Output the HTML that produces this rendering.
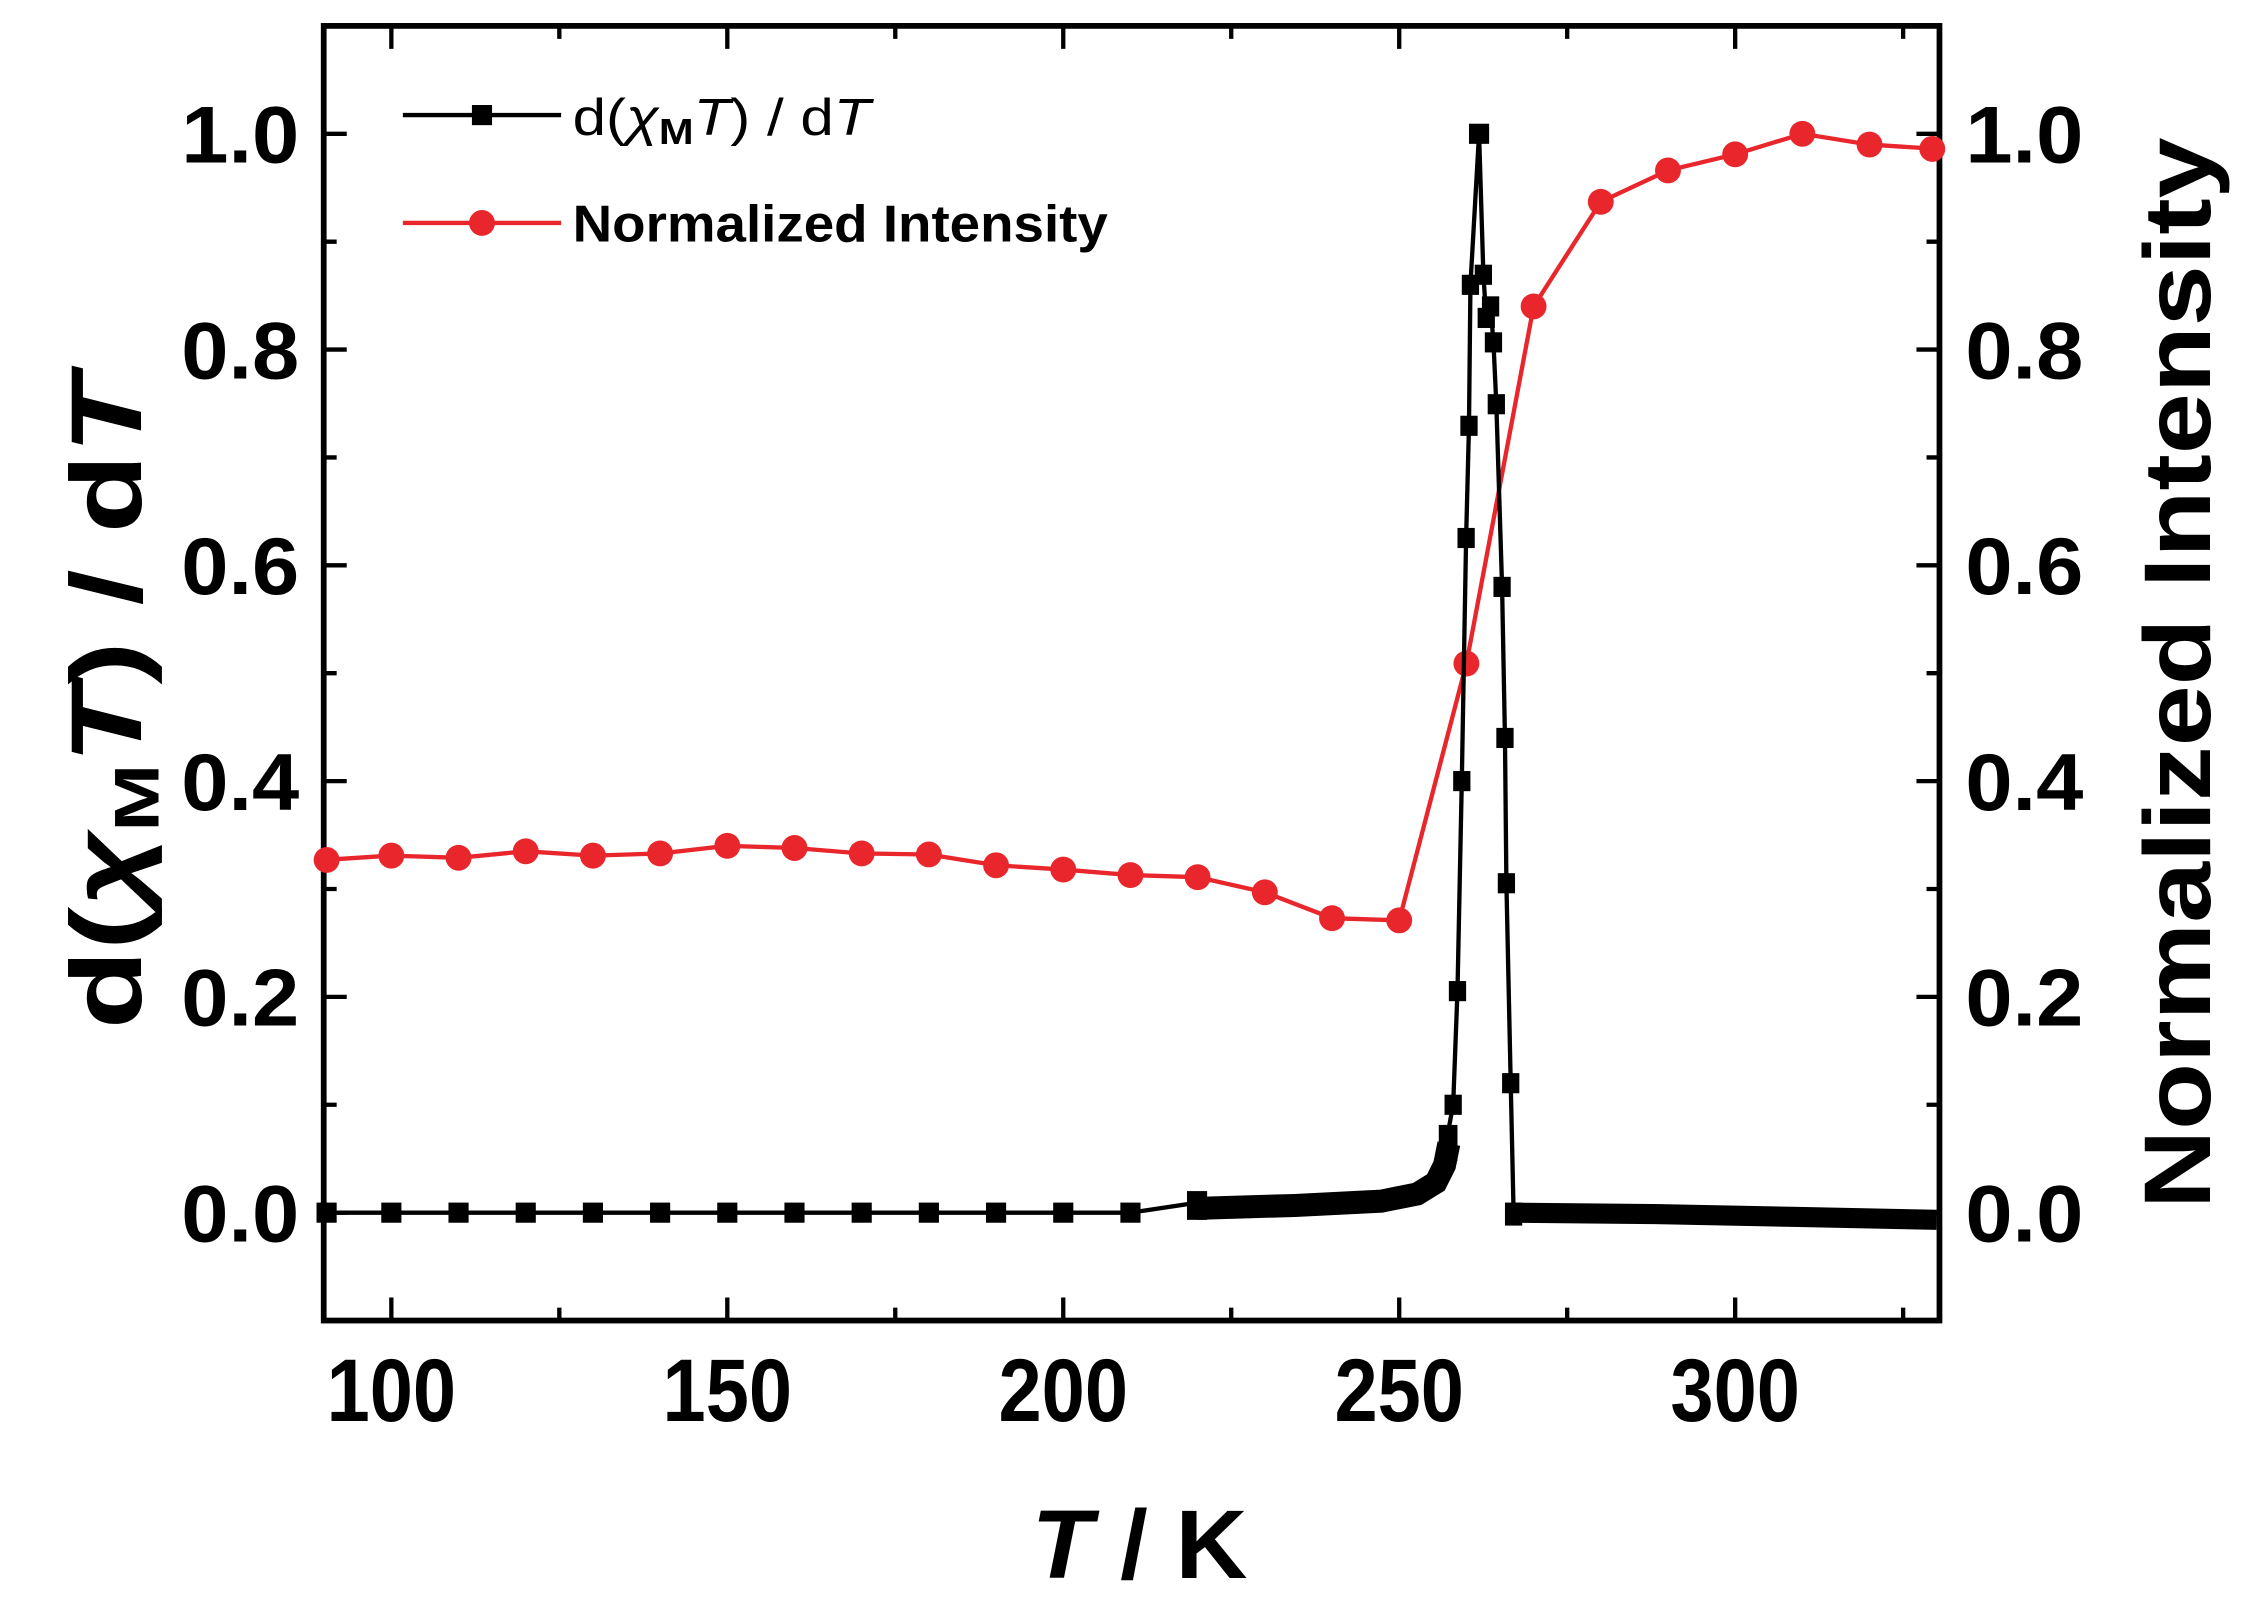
<!DOCTYPE html>
<html><head><meta charset="utf-8"><style>html,body{margin:0;padding:0;background:#fff}svg{display:block}</style></head>
<body>
<svg width="2256" height="1614" viewBox="0 0 1568 1122" preserveAspectRatio="none" xmlns="http://www.w3.org/2000/svg" font-family="Liberation Sans, sans-serif" font-weight="bold">
<g stroke="#000" stroke-width="3">
<path d="M272 918v-16M505.5 918v-16M739 918v-16M972.5 918v-16M1206 918v-16
M388.75 918v-9M622.25 918v-9M855.75 918v-9M1089.25 918v-9M1322.75 918v-9
M272 18v16M505.5 18v16M739 18v16M972.5 18v16M1206 18v16
M388.75 18v9M622.25 18v9M855.75 18v9M1089.25 18v9M1322.75 18v9"/>
<path d="M225 843h16M225 693h16M225 543h16M225 393h16M225 243h16M225 93h16
M225 918h9M225 768h9M225 618h9M225 468h9M225 318h9M225 168h9
M1348 843h-16M1348 693h-16M1348 543h-16M1348 393h-16M1348 243h-16M1348 93h-16
M1348 918h-9M1348 768h-9M1348 618h-9M1348 468h-9M1348 318h-9M1348 168h-9"/>
</g>
<rect x="225" y="18" width="1123" height="900" fill="none" stroke="#000" stroke-width="4"/>
<g font-size="56" text-anchor="end">
<text x="208" y="863" textLength="82" lengthAdjust="spacingAndGlyphs">0.0</text><text x="208" y="713" textLength="82" lengthAdjust="spacingAndGlyphs">0.2</text><text x="208" y="563" textLength="82" lengthAdjust="spacingAndGlyphs">0.4</text><text x="208" y="413" textLength="82" lengthAdjust="spacingAndGlyphs">0.6</text><text x="208" y="263" textLength="82" lengthAdjust="spacingAndGlyphs">0.8</text><text x="208" y="113" textLength="82" lengthAdjust="spacingAndGlyphs">1.0</text>
</g>
<g font-size="56" text-anchor="start">
<text x="1366" y="863" textLength="82" lengthAdjust="spacingAndGlyphs">0.0</text><text x="1366" y="713" textLength="82" lengthAdjust="spacingAndGlyphs">0.2</text><text x="1366" y="563" textLength="82" lengthAdjust="spacingAndGlyphs">0.4</text><text x="1366" y="413" textLength="82" lengthAdjust="spacingAndGlyphs">0.6</text><text x="1366" y="263" textLength="82" lengthAdjust="spacingAndGlyphs">0.8</text><text x="1366" y="113" textLength="82" lengthAdjust="spacingAndGlyphs">1.0</text>
</g>
<g font-size="62" text-anchor="middle">
<text x="272" y="988" textLength="90" lengthAdjust="spacingAndGlyphs">100</text><text x="505.5" y="988" textLength="90" lengthAdjust="spacingAndGlyphs">150</text><text x="739" y="988" textLength="90" lengthAdjust="spacingAndGlyphs">200</text><text x="972.5" y="988" textLength="90" lengthAdjust="spacingAndGlyphs">250</text><text x="1206" y="988" textLength="90" lengthAdjust="spacingAndGlyphs">300</text>
</g>
<text x="792" y="1097" font-size="68" text-anchor="middle" textLength="150" lengthAdjust="spacingAndGlyphs"><tspan font-style="italic">T</tspan> / K</text>
<text transform="translate(98,488) rotate(-90)" font-size="70" text-anchor="middle" textLength="455" lengthAdjust="spacingAndGlyphs">d(<tspan font-style="italic">χ</tspan><tspan font-size="44" dy="12">M</tspan><tspan font-style="italic" dy="-12">T</tspan>) / d<tspan font-style="italic">T</tspan></text>
<text transform="translate(1536,468) rotate(-90)" font-size="66" text-anchor="middle" textLength="745" lengthAdjust="spacingAndGlyphs">Normalized Intensity</text>

<g fill="#e8262b" stroke="#e8262b">
<polyline fill="none" stroke-width="3" points="225.3,597.8 272,594.8 318.7,596.3 365.4,591.8 412.1,594.8 458.8,593.3 505.5,588.0 552.2,589.5 598.9,593.3 645.6,594.0 692.3,601.5 739,604.5 785.7,608.3 832.4,609.8 879.1,620.3 925.8,638.3 972.5,639.8 1019.2,461.3 1065.9,213.0 1112.6,140.3 1159.3,118.5 1206,107.3 1252.7,93.0 1299.4,100.5 1346,103.5"/>
<g stroke="none">
<circle cx="227" cy="597.8" r="9"/><circle cx="272" cy="594.8" r="9"/><circle cx="318.7" cy="596.3" r="9"/><circle cx="365.4" cy="591.8" r="9"/><circle cx="412.1" cy="594.8" r="9"/><circle cx="458.8" cy="593.3" r="9"/><circle cx="505.5" cy="588" r="9"/><circle cx="552.2" cy="589.5" r="9"/><circle cx="598.9" cy="593.3" r="9"/><circle cx="645.6" cy="594" r="9"/><circle cx="692.3" cy="601.5" r="9"/><circle cx="739" cy="604.5" r="9"/><circle cx="785.7" cy="608.3" r="9"/><circle cx="832.4" cy="609.8" r="9"/><circle cx="879.1" cy="620.3" r="9"/><circle cx="925.8" cy="638.3" r="9"/><circle cx="972.5" cy="639.8" r="9"/><circle cx="1019.2" cy="461.3" r="9"/><circle cx="1065.9" cy="213" r="9"/><circle cx="1112.6" cy="140.3" r="9"/><circle cx="1159.3" cy="118.5" r="9"/><circle cx="1206" cy="107.3" r="9"/><circle cx="1252.7" cy="93" r="9"/><circle cx="1299.4" cy="100.5" r="9"/><circle cx="1343" cy="103.5" r="9"/>
</g></g>

<g fill="#000" stroke="#000">
<polyline fill="none" stroke-width="3" points="225,843 785.7,843 832.4,836"/>
<path fill="none" stroke-width="16" d="M832 840 L900 838 L960 835 L985 830 L998 822 L1004 810 L1007 795"/>
<polyline fill="none" stroke-width="3" points="1004,800 1010,768 1013,689 1016,543 1019,374 1021,296 1022,198 1028,93 1031,191 1033,221 1036,213 1038,238 1040,281 1044,408 1046,513 1047,614 1050,753 1052,843"/>
<path fill="none" stroke-width="14" d="M1052 843 L1150 844 L1250 846 L1346 848"/>
<g stroke="none">
<rect x="220" y="836" width="14" height="14"/><rect x="265" y="836" width="14" height="14"/><rect x="311.7" y="836" width="14" height="14"/><rect x="358.4" y="836" width="14" height="14"/><rect x="405.1" y="836" width="14" height="14"/><rect x="451.8" y="836" width="14" height="14"/><rect x="498.5" y="836" width="14" height="14"/><rect x="545.2" y="836" width="14" height="14"/><rect x="591.9" y="836" width="14" height="14"/><rect x="638.6" y="836" width="14" height="14"/><rect x="685.3" y="836" width="14" height="14"/><rect x="732" y="836" width="14" height="14"/><rect x="778.7" y="836" width="14" height="14"/><rect x="825" y="828" width="14" height="20"/>
<rect x="1000" y="782" width="13" height="25"/><rect x="1004" y="761" width="12" height="14"/><rect x="1007" y="682" width="12" height="14"/><rect x="1010" y="536" width="12" height="14"/><rect x="1013" y="367" width="12" height="14"/><rect x="1015" y="289" width="12" height="14"/><rect x="1016" y="191" width="12" height="14"/><rect x="1021" y="86" width="14" height="14"/><rect x="1025" y="184" width="12" height="14"/><rect x="1027" y="214" width="12" height="14"/><rect x="1030" y="206" width="12" height="14"/><rect x="1032" y="231" width="12" height="14"/><rect x="1034" y="274" width="12" height="14"/><rect x="1038" y="401" width="12" height="14"/><rect x="1040" y="506" width="12" height="14"/><rect x="1041" y="607" width="12" height="14"/><rect x="1044" y="746" width="12" height="14"/><rect x="1046" y="836" width="12" height="16"/>
</g></g>

<line x1="280" y1="80" x2="390" y2="80" stroke="#000" stroke-width="3"/>
<rect x="328" y="73" width="14" height="14" fill="#000"/>
<text x="398" y="94" font-size="36" font-weight="normal" textLength="207" lengthAdjust="spacingAndGlyphs">d(<tspan font-style="italic">χ</tspan><tspan font-size="25" dy="6" font-weight="bold">M</tspan><tspan font-style="italic" dy="-6">T</tspan>) / d<tspan font-style="italic">T</tspan></text>
<line x1="280" y1="155" x2="390" y2="155" stroke="#e8262b" stroke-width="3"/>
<circle cx="335" cy="155" r="9" fill="#e8262b"/>
<text x="398" y="168" font-size="36" textLength="372" lengthAdjust="spacingAndGlyphs">Normalized Intensity</text>
</svg>
</body></html>
